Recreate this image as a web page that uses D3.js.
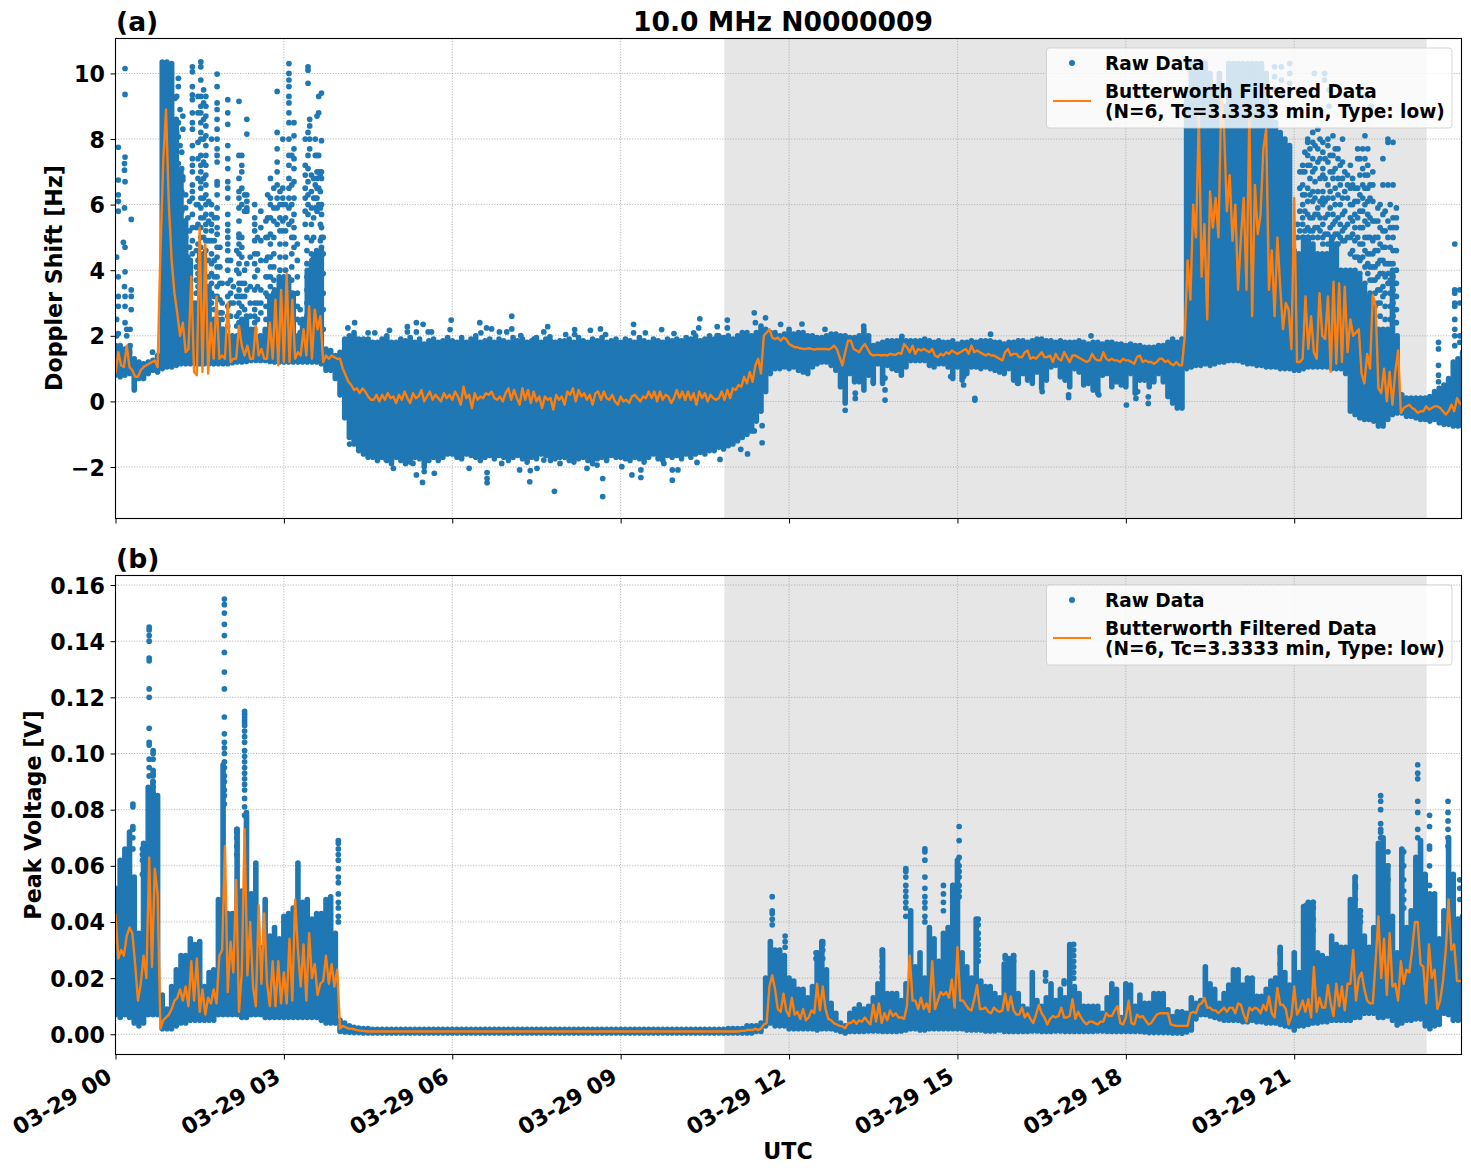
<!DOCTYPE html>
<html>
<head>
<meta charset="utf-8">
<title>10.0 MHz N0000009</title>
<script src="https://cdn.jsdelivr.net/npm/d3@7"></script>
<style>
  html, body { margin: 0; padding: 0; background: #fff; }
  svg { display: block; }
  text { font-family: "DejaVu Sans", sans-serif; font-weight: bold; fill: #000; }
</style>
</head>
<body>
<svg id="chart" width="1471" height="1172"></svg>
<script>
// Time runs in hours after 03-29 00:00 UTC.
const title = "10.0 MHz N0000009";
const xTickHours = [0, 3, 6, 9, 12, 15, 18, 21];
const xTickLabels = ["03-29 00", "03-29 03", "03-29 06", "03-29 09", "03-29 12", "03-29 15", "03-29 18", "03-29 21"];
const dopplerTicks = [-2, 0, 2, 4, 6, 8, 10];
const dopplerTickLabels = ["\u22122", "0", "2", "4", "6", "8", "10"];
const voltageTicks = [0, 0.02, 0.04, 0.06, 0.08, 0.10, 0.12, 0.14, 0.16];
const voltageTickLabels = ["0.00", "0.02", "0.04", "0.06", "0.08", "0.10", "0.12", "0.14", "0.16"];
const nightStart = 10.846, nightEnd = 23.36;

// Dense raw Doppler samples: lower and upper edge of the cloud, one value per 5 minutes.
const dopplerLow = [
  .8,.75,.8,.85,.35,.7,.7,.85,.95,.9,1.0,1.05,
  1.05,1.1,1.15,1.15,1.15,1.15,1.15,1.15,1.15,1.15,1.15,1.15,
  1.15,1.18,1.2,1.2,1.22,1.25,1.25,1.25,1.25,1.22,1.2,1.2,
  1.2,1.2,1.2,1.2,1.2,1.2,1.2,1.2,1.15,.95,.95,.7,
  .2,-.5,-1.1,-1.3,-1.5,-1.6,-1.7,-1.7,-1.8,-1.7,-1.8,-1.9,
  -1.7,-1.8,-1.9,-1.85,-1.7,-1.75,-1.9,-1.8,-1.7,-1.8,-1.7,-1.6,
  -1.6,-1.7,-1.75,-1.6,-1.65,-1.7,-1.8,-1.7,-1.65,-1.75,-1.65,-1.7,
  -1.8,-1.7,-1.65,-1.75,-1.85,-1.7,-1.75,-1.6,-1.65,-1.8,-1.75,-1.7,
  -1.7,-1.8,-1.85,-1.75,-1.7,-1.8,-1.9,-1.75,-1.7,-1.8,-1.65,-1.7,
  -1.7,-1.75,-1.8,-1.7,-1.75,-1.85,-1.7,-1.6,-1.75,-1.8,-1.65,-1.7,
  -1.65,-1.75,-1.6,-1.7,-1.6,-1.55,-1.6,-1.5,-1.5,-1.4,-1.45,-1.35,
  -1.3,-1.2,-1.1,-1.0,-.9,-.6,-.3,.3,.85,1.0,1.0,1.05,
  1.0,1.05,.95,.9,.85,1.05,1.15,1.2,1.2,1.1,.95,.45,
  -.05,.85,.6,.6,.35,.8,.55,1.15,.55,1.1,1.0,.95,
  .8,1.05,1.25,1.25,1.25,1.25,1.1,1.05,1.15,1.15,1.05,.7,
  1.05,.65,.85,1.05,1.05,1.0,1.05,1.0,.95,.9,.85,1.0,
  .65,.55,.85,.65,.55,.9,.4,.65,1.05,1.1,.75,.65,
  .45,1.0,.9,.5,.55,.35,.25,.8,.85,.45,.6,.5,
  .45,.85,.25,.65,.65,.45,.6,.85,.6,.15,-.05,-.2,
  -.2,1.0,1.05,1.1,1.1,1.15,1.1,1.15,1.2,1.2,1.25,1.25,
  1.25,1.2,1.15,1.15,1.1,1.1,1.05,1.05,1.05,1.0,1.0,1.0,
  .95,.95,1.0,1.05,1.05,1.05,1.05,1.05,1.0,1.0,1.0,.85,
  -.3,-.4,-.5,-.55,-.55,-.6,-.75,-.75,-.55,-.4,-.35,-.35,
  -.45,-.45,-.5,-.55,-.55,-.6,-.55,-.65,-.7,-.7,-.75,-.75,-.75
];
const dopplerHigh = [
  1.7,1.7,1.6,1.6,1.3,1.2,1.15,1.2,1.25,1.4,10.35,10.35,
  10.3,8.6,7.0,5.5,4.3,3.0,4.5,4.5,3.5,2.5,2.5,2.2,
  2.0,2.0,2.0,2.4,2.6,2.2,1.9,2.0,2.2,3.2,3.4,3.8,
  3.8,3.8,3.3,2.0,2.5,4.0,4.3,4.6,4.6,1.6,1.55,1.4,
  1.5,1.9,2.0,2.1,1.9,1.9,1.9,1.8,1.8,1.9,2.0,1.8,
  1.8,1.9,1.85,1.95,1.8,1.9,1.75,1.85,1.9,1.8,1.85,1.95,
  1.85,1.8,1.95,1.8,1.9,2.0,1.8,1.85,1.9,1.8,1.9,1.85,
  1.8,1.95,1.85,1.9,1.8,1.85,1.95,1.8,1.9,1.85,1.8,1.85,
  1.85,1.9,1.8,1.95,1.85,1.8,1.9,1.85,1.95,1.8,1.85,1.9,
  1.8,1.9,1.85,1.8,1.95,1.85,1.8,1.9,1.85,1.8,1.9,1.85,
  1.9,1.85,1.95,1.9,2.0,1.85,1.9,2.0,1.9,2.0,1.95,2.0,
  1.9,2.0,2.1,2.1,2.0,2.1,2.3,2.2,2.1,2.1,2.0,2.05,
  2.2,2.05,2.1,2.1,2.0,2.0,1.95,1.95,2.0,2.05,2.05,2.0,
  2.0,1.95,1.95,2.0,2.2,2.0,1.7,1.75,1.8,1.85,1.85,1.85,
  1.9,1.85,1.85,1.85,1.85,1.9,1.85,1.8,1.85,1.8,1.8,1.85,
  1.75,1.8,1.8,1.85,1.8,1.85,1.85,1.85,1.8,1.8,1.75,1.8,
  1.8,1.85,1.85,1.8,1.85,1.9,1.9,1.85,1.85,1.8,1.85,1.8,
  1.8,1.8,1.85,1.8,1.75,1.8,1.8,1.75,1.8,1.8,1.75,1.75,
  1.7,1.75,1.7,1.7,1.65,1.65,1.65,1.7,1.7,1.8,1.9,1.8,
  1.9,9.5,10.3,10.3,10.3,10.3,10.0,9.5,10.0,9.0,10.3,10.3,
  10.3,10.3,10.3,10.3,10.3,10.3,10.0,9.0,8.5,8.2,8.0,7.8,
  4.6,4.5,5.0,5.0,4.8,4.5,4.5,4.5,5.0,4.8,4.0,4.0,
  4.0,4.0,3.8,3.5,3.2,3.0,2.2,2.2,2.2,4.0,2.0,.2,
  .1,.1,.1,.1,.1,.15,.3,.4,.5,.7,1.2,1.3,1.5
];

// Isolated raw Doppler samples above the cloud, grouped by the hour they fall in.
const dopplerColumns = [
  [.05,[7.75,6.75,6.3,6.1,5.8,3.8,3.2,2.9,2.07]], [.02,[4.4,2.5,2.0]],
  [.17,[10.15,9.36,7.45,6.7,4.7,3.95,3.2,2.9,2.4]], [.16,[7.25,7.05,5.9,3.5]], [.14,[4.85]], [.2,[2.2,2.0]],
  [.28,[5.55,3.4,3.2,2.8]], [.26,[2.2,1.7]], [.25,[1.5]], [.66,[1.5]],
  [1.12,[9.85,9.6,8.5,8.07,7.25,6.55,5.6]], [1.06,[9.24]], [1.15,[8.9,7.8,6.1,5.2]], [1.2,[8.7,8.3,6.85,6.75]],
  [1.25,[6.3,5.9,5.0,4.7]], [1.29,[5.6,4.4]],
  [1.09,[9.3,8.2,7.6,7.0,6.4,5.8,5.2,4.6]], [1.18,[7.6,7.1,6.4,5.8,5.3,4.8,4.3,3.8]], [1.23,[5.5,5.1,4.4,4.0,3.6,3.2]],
  [1.32,[6.1,5.2,4.7,4.2,3.8,3.3,2.9]], [1.44,[6.0,5.3,4.6,4.1,3.7,3.3,2.9,2.5]],
  [1.47,[9.3,8.8,7.9,7.4,6.8,6.0,5.4,4.8,4.3,3.9,3.5,3.0]], [1.57,[9.5,9.1,8.6,8.0,7.3,6.8,6.2,5.6,5.0,4.5,4.0,3.6,3.1]],
  [1.66,[6.1,5.5,4.9,4.3,3.8,3.3,2.8]], [1.76,[5.6,4.9,4.3,3.8,3.2,2.8,2.4]], [1.86,[4.7,4.1,3.6,3.1,2.7]],
  [1.37,[10.2,10.05,9.6,9.35,9.2,8.8,8.5,8.3,7.8,7.4,7.2,7.0,6.6,6.4,6.2,5.7,5.3,4.9,4.5]],
  [1.52,[10.35,10.2,9.8,9.3,9.0,8.8,8.5,8.2,8.0,7.5,7.2,7.0,6.7,6.5,6.2,5.9,5.6,5.3,5.0,4.7]],
  [1.61,[9.3,9.0,8.7,8.4,8.1,7.8,7.5,7.2,6.9,6.6,6.3,6.0,5.7,5.4,5.2,4.9,4.6]],
  [1.71,[8.0,6.0,5.7,5.4,5.2,4.9,4.5,4.2,3.9,3.6,3.3,3.0]],
  [1.81,[9.98,9.6,9.1,8.9,8.6,8.3,8.0,7.7,7.5,7.3,6.7,6.6,6.3,5.9,5.6,5.3,5.1,4.7,4.4,4.1,3.8,3.5,3.2]],
  [1.9,[3.6,3.0,2.7,2.5,2.2]],
  [2.0,[9.2,8.8,8.45,7.8,7.4,7.1,6.7,6.5,6.2,5.7,5.4,5.2,5.0,4.8,4.6,4.3,4.0,3.6,3.2,2.9,2.6,2.3]],
  [2.05,[4.3,3.7,3.3,3.0,2.6]], [2.1,[3.5,3.0]], [2.16,[4.6,4.0,3.2,2.6,2.3]],
  [2.2,[9.15,7.5,6.8,6.4,6.2,5.9,5.5,5.1,5.0,4.8,4.5,4.2,3.9,3.6,3.4,3.2,3.0,2.7,2.4]],
  [2.25,[7.5,7.2,7.0,6.5,6.0,5.0,4.7,4.4,3.6,3.2,2.9,2.5,2.2]],
  [2.3,[6.3,5.8,4.0,3.6,3.2,2.8]],
  [2.34,[8.6,8.15,6.3,6.1,5.9,5.8,4.2,3.4]], [2.4,[4.4,3.5,3.0,2.6]],
  [2.48,[6.0,5.6,5.4,5.2,4.9,4.5,4.2,3.8,3.4,3.0,2.8,2.6,2.4,2.2]],
  [2.53,[5.0,4.5,4.0,3.5,3.0,2.5]],
  [2.59,[5.8,5.3,4.9,4.3,3.4,3.0,2.7]], [2.68,[5.5,5.0,4.3,3.8,3.3,2.9,2.5]], [2.71,[6.3,5.6,5.0,4.4,3.8,3.2]],
  [2.76,[6.8,6.2,6.0,5.6,5.1,4.8,4.4,4.1,3.8,3.5,3.2,2.9]],
  [2.82,[6.5,5.9,5.5,5.0,4.5,4.1,3.7,3.3,2.9,2.5]],
  [2.88,[9.45,8.2,7.7,7.3,7.0,6.6,6.2,5.9,5.4]],
  [2.93,[6.4,6.0,5.6,5.2,4.8,4.4,4.0,3.6,3.2,2.8,2.4]],
  [2.98,[8.0,6.5,6.2,6.0,5.5,5.2]],
  [3.03,[6.0,5.6,5.2,4.8,4.4,4.0,3.6,3.2,2.8,2.4]],
  [3.09,[10.3,10.0,9.8,9.6,9.3,9.1,8.8,8.5,8.0,7.5,7.2,6.8,6.5,6.2,5.9,5.4]],
  [3.14,[7.5,6.6,6.0,5.5,5.0,4.5,4.1,3.7,3.3,2.9,2.5,2.1]],
  [3.18,[8.5,8.1,7.7,7.4,7.1,6.7,6.2,5.7,5.3,5.0,4.7]],
  [3.24,[4.8,4.3,3.8,3.3,2.9,2.5]], [3.29,[2.8,2.4,2.1]],
  [3.38,[8.0,7.2,6.9,6.5,6.2,5.8,5.4]], [3.41,[5.0,4.6,4.2,3.8,3.4,3.0,2.6,2.2]],
  [3.43,[10.2,10.1,9.7,8.2,7.5,7.1,6.7,6.3,6.0,5.7]],
  [3.46,[8.6,8.4,8.0,7.7]], [3.49,[6.9,6.4,5.9,5.4,4.9,4.5,4.1,3.7,3.3,2.9,2.5]],
  [3.53,[6.8,6.2,5.6,5.0,4.4,3.9,3.4,2.9,2.4]],
  [3.56,[8.0,7.5,6.6,6.2,5.9]],
  [3.59,[8.7,7.5,7.0,6.8,6.5,6.2,5.8]],
  [3.62,[9.3,8.8,7.5,7.0,6.5,6.0]], [3.65,[6.9,6.4,5.9,5.4,4.9,4.4,3.9,3.4,2.9,2.4]],
  [3.67,[9.4,7.95,7.0,6.8,6.0,5.7,5.3,5.0,4.7]], [3.7,[5.0,4.5,3.9,3.3,2.8,2.2]],
  [20.65,[10.2,9.9,9.5]], [20.77,[10.2,9.8,9.3]], [20.92,[10.3,10.0,9.7,9.5]],
  [21.36,[10.0]], [21.54,[10.0,9.8]], [21.62,[9.5,9.0]], [22.25,[9.3]], [22.37,[9.0]],
  [21.06,[5.4,5.0]], [21.1,[7.0,6.5,5.8,5.2]],
  [21.15,[7.2,7.0,6.6,6.3,6.0,5.6,5.4,5.0]], [21.19,[7.6,7.0,6.3,5.8,5.2]],
  [21.24,[8.0,7.9,7.5,7.2,6.5,6.1,5.7,5.3,5.0]], [21.28,[7.7,7.2,6.8,6.3,5.6,5.2]],
  [21.33,[8.2,7.9,7.4,7.0,6.4,6.1,5.6,5.2,5.0]], [21.37,[7.8,7.1,6.7,6.2,5.7,5.3]],
  [21.42,[8.3,7.7,7.3,6.4,5.9,5.7,5.3,5.0]], [21.46,[8.0,7.4,6.8,6.1,5.6,5.2]],
  [21.51,[7.9,7.6,7.1,6.9,6.4,6.2,6.0,5.4,5.0,4.8]], [21.55,[7.4,6.8,6.1,5.6,5.1]],
  [21.6,[8.0,7.8,7.3,6.6,6.2,5.7,5.1,4.8]], [21.64,[7.5,7.0,6.4,5.9,5.3]],
  [21.69,[8.1,7.5,7.0,6.8,6.2,5.7,5.4,5.0]], [21.73,[7.7,7.1,6.5,6.0,5.5,5.1]],
  [21.78,[7.7,7.4,6.8,6.3,5.6,5.1,4.8]], [21.82,[7.2,6.6,6.0,5.4,5.0]],
  [21.86,[8.0,7.3,6.8,6.2,5.7,5.2,4.9]], [21.9,[7.0,6.4,5.8,5.3,4.9]],
  [21.95,[6.9,6.6,6.2,5.4,5.0]], [22.0,[7.2,6.5,6.0,5.6,5.0,4.5]],
  [22.04,[6.8,6.6,6.0,5.5,5.1,4.6]], [22.08,[6.5,6.1,5.7,5.3,4.9,4.4]],
  [22.13,[7.7,7.4,6.5,6.1,5.6,5.0,4.4]], [22.17,[7.4,6.9,6.3,5.8,5.3,4.8,4.3,3.9]],
  [22.22,[7.7,7.1,6.6,6.2,5.8,5.3,4.8,4.4]], [22.26,[8.1,7.4,6.9,6.5,6.0,5.5,5.0,4.6,4.1,3.6]],
  [22.31,[7.7,7.2,6.9,6.5,6.1,5.7,5.4,5.0,4.5,4.2,3.9]], [22.35,[6.6,6.2,5.6,5.0,4.5,4.1,3.7,3.3]],
  [22.4,[7.0,6.6,6.1,5.5,4.9,4.5,4.1,3.7]], [22.44,[5.5,5.0,4.6,4.1,3.7,3.3,2.9]],
  [22.49,[5.9,5.5,5.0,4.6,4.2,3.8,3.4,3.0]], [22.53,[6.0,5.3,4.8,4.3,3.9,3.4,3.0,2.6]],
  [22.58,[7.4,6.6,5.7,5.2,4.7,4.3,3.9,3.5,3.2]], [22.62,[5.8,5.2,4.7,4.2,3.8,3.3,2.9,2.5]],
  [22.67,[8.0,7.9,6.6,5.5,5.0,4.2,3.9,3.6]], [22.71,[6.0,5.3,4.7,4.2,3.7,3.3,2.9,2.5]],
  [22.76,[7.9,6.6,5.6,5.3,5.0,4.6,4.2,3.8,3.4,3.0,2.6]],
  [22.82,[5.9,5.6,5.3,4.6,4.0,3.6,3.2,2.8,2.4]],
  [23.57,[1.8,1.6,1.1,.8,.6]], [23.86,[4.8,3.4,3.3,3.0,2.9,2.5,2.2,2.0,1.7]], [23.95,[3.4,3.0,2.0,1.8]],
  // scattered points around the quiet band, from 04:00 to 19:00
  [4.14,[2.24]],[4.26,[2.40]],[4.5,[2.09]],[4.62,[2.09]],[4.88,[2.17]],[5.2,[2.28,2.12]],[5.36,[2.4,2.12]],[5.48,[2.35]],
  [5.57,[2.12]],[5.63,[2.12]],[5.98,[2.48]],[5.96,[2.19]],[6.49,[2.4]],[6.51,[2.09]],[6.61,[2.24]],[6.7,[2.21]],[6.84,[2.12]],
  [6.97,[2.12]],[7.06,[2.6,2.21]],[7.22,[2.01]],[7.46,[1.91]],[7.63,[2.12]],[7.7,[2.28]],[7.74,[1.97]],[8.02,[2.04]],
  [8.18,[2.19,2.04]],[8.46,[2.17]],[8.64,[2.21]],[8.73,[2.04]],[9.23,[2.35,2.09]],[9.44,[2.09]],[9.73,[2.19]],[9.95,[2.07]],
  [10.41,[2.52]],[10.39,[2.24]],[10.3,[2.09]],[10.72,[2.28,2.01]],[10.9,[2.48,2.24]],[11.38,[2.7]],[11.4,[2.4]],[11.58,[2.55]],[11.85,[2.35]],
  [4.17,[-1.3]],[4.35,[-1.33]],[4.53,[-1.6]],[4.82,[-1.77]],[4.95,[-2.04]],[5.3,[-1.89]],[5.36,[-2.24]],[5.5,[-1.99,-2.14]],
  [5.47,[-2.47]],[5.68,[-2.19]],[6.07,[-1.6]],[6.15,[-1.63]],[6.3,[-2.04]],[6.62,[-2.17,-2.35,-2.48]],[6.88,[-1.89]],[7.2,[-2.09]],
  [7.39,[-2.11]],[7.38,[-2.45]],[7.51,[-2.04]],[7.63,[-1.79]],[7.82,[-2.74]],[7.92,[-1.89]],[8.4,[-2.04]],[8.58,[-1.94]],
  [8.68,[-2.35,-2.9]],[9.02,[-1.99]],[9.2,[-2.24]],[9.36,[-2.09,-2.32]],[9.77,[-1.89]],[9.92,[-2.09,-2.4]],[10.02,[-2.09]],
  [10.36,[-1.86]],[10.77,[-1.77]],[11.26,[-1.6]],[11.14,[-1.46]],[11.52,[-1.26,-.74]],[11.38,[-.9]],
  [13.0,[-.27]],[13.18,[.25,.09]],[13.5,[.6]],[13.71,[.71,.35,.04]],[14.88,[.76]],[15.11,[.76,.5]],[15.31,[.09,.04]],
  [16.07,[.87,.56]],[16.51,[.3]],[16.98,[.2,.12]],[17.52,[.2]],[18.21,[.3]],[18.18,[.09]],[18.01,[-.11]],[18.4,[.14,-.06]],
  [15.59,[2.05]],[17.38,[2.0]],[14.01,[1.98]],[13.33,[2.3]],[12.23,[2.36]],[12.64,[2.2]]
];

// Butterworth filtered Doppler shift, one value per 3 minutes.
const dopplerFiltered = [
  .85,1.5,1.1,1.05,1.7,1.05,.95,.75,.75,.95,1.05,1.1,1.15,1.2,1.25,1.05,4.5,7.3,8.9,6.0,
  4.3,3.3,2.7,2.0,2.4,1.5,1.6,3.8,.9,.8,5.3,.9,4.8,.85,2.4,1.3,3.2,1.3,1.4,1.3,
  3.0,1.2,1.3,1.3,2.3,1.7,1.4,1.7,1.3,1.3,2.3,1.4,1.6,1.3,1.3,2.4,1.3,3.1,1.1,3.4,
  1.2,3.9,1.2,3.1,1.3,1.5,1.4,2.2,1.4,2.9,1.3,2.8,2.2,2.6,1.2,1.4,1.3,1.4,1.35,1.3,
  1.3,1.0,.8,.6,.5,.35,.4,.25,.4,.3,.15,.05,.05,.2,0,.2,.05,.25,.1,.15,
  -.05,.2,.05,.3,.1,-.05,.25,.1,.15,.35,.0,.15,.3,.05,.2,.1,.0,.25,.1,.2,
  .05,.3,.15,-.1,.45,.1,.2,-.2,.25,.05,.15,.1,.25,.2,.3,.1,.05,.15,.0,.25,
  .4,.05,.35,.1,-.1,.4,.05,.35,-.05,.3,.0,.15,-.2,.15,.05,.1,-.25,.2,.05,.15,
  -.1,.3,.2,.4,.0,.35,.15,.25,.05,.2,-.1,.25,.3,.05,.3,.1,.05,.2,.0,-.1,
  .15,.0,.05,-.05,.15,.2,.1,.0,.15,.1,.3,.1,.3,.0,.3,.05,.2,.15,-.05,.1,
  .35,.1,.3,.05,.3,.05,.25,-.1,.3,.1,.25,.0,.2,.1,.05,.1,.3,.05,.35,.1,
  .4,.35,.5,.45,.75,.55,.9,.6,1.1,1.3,.85,2.0,2.1,2.2,1.95,1.9,1.95,1.85,1.95,1.9,
  1.75,1.7,1.65,1.65,1.62,1.6,1.6,1.62,1.6,1.58,1.6,1.6,1.6,1.6,1.58,1.62,1.7,1.6,1.35,1.1,
  1.5,1.85,1.85,1.6,1.55,1.5,1.65,1.75,1.6,1.45,1.4,1.42,1.42,1.4,1.42,1.4,1.45,1.43,1.42,1.48,
  1.45,1.75,1.65,1.5,1.7,1.45,1.6,1.55,1.6,1.55,1.5,1.6,1.4,1.35,1.45,1.4,1.5,1.45,1.55,1.5,
  1.45,1.5,1.55,1.6,1.45,1.7,1.5,1.55,1.5,1.45,1.4,1.45,1.4,1.4,1.35,1.3,1.25,1.5,1.6,1.4,
  1.45,1.45,1.35,1.35,1.5,1.55,1.3,1.35,1.3,1.4,1.5,1.35,1.35,1.4,1.2,1.45,1.3,1.25,1.5,1.35,
  1.2,1.4,1.4,1.35,1.3,1.25,1.2,1.25,1.45,1.3,1.25,1.25,1.5,1.3,1.25,1.3,1.25,1.25,1.2,1.3,
  1.25,1.25,1.2,1.15,1.35,1.4,1.2,1.25,1.2,1.2,1.15,1.2,1.3,1.3,1.2,1.25,1.15,1.1,1.2,1.1,
  1.1,2.0,4.3,3.1,6.0,5.0,8.7,3.8,5.4,2.5,6.4,5.3,6.2,5.0,9.3,8.3,5.8,6.9,4.9,6.0,
  3.4,5.0,6.2,3.4,8.7,2.6,6.6,5.1,5.7,7.7,8.3,3.4,4.6,2.6,5.0,3.5,2.2,3.0,2.8,1.6,
  6.2,1.2,1.2,1.3,3.2,1.6,2.6,1.5,1.3,3.3,2.0,1.9,3.2,.9,3.65,1.15,3.6,1.2,3.5,1.5,
  2.5,2.0,2.1,2.2,.85,.55,1.45,1.0,3.25,2.9,.4,.25,1.0,.0,.9,-.1,.9,1.55,-.35,-.2,
  -.15,-.1,-.2,-.25,-.35,-.3,-.3,-.15,-.25,-.2,-.15,-.15,-.2,-.3,-.4,-.3,-.1,-.3,.1,-.05,-.15
];

// Dense raw peak voltage samples: edges of the cloud, one value per 5 minutes.
const voltageLow = [
  .007,.006,.007,.006,.004,.003,.004,.007,.007,.007,.002,.002,
  .002,.003,.004,.004,.005,.005,.005,.005,.005,.005,.007,.007,
  .007,.007,.007,.006,.006,.007,.007,.007,.006,.006,.006,.006,
  .006,.006,.006,.006,.006,.006,.006,.006,.005,.004,.004,.004,
  .001,.0008,.0007,.0006,.0006,.0005,.0005,.0005,.0005,.0005,.0005,.0005,
  .0005,.0005,.0005,.0005,.0005,.0005,.0005,.0005,.0005,.0005,.0005,.0005,
  .0005,.0005,.0005,.0005,.0005,.0005,.0005,.0005,.0005,.0005,.0005,.0005,
  .0005,.0005,.0005,.0005,.0005,.0005,.0005,.0005,.0005,.0005,.0005,.0005,
  .0005,.0005,.0005,.0005,.0005,.0005,.0005,.0005,.0005,.0005,.0005,.0005,
  .0005,.0005,.0005,.0005,.0005,.0005,.0005,.0005,.0005,.0005,.0005,.0005,
  .0005,.0005,.0005,.0005,.0005,.0005,.0005,.0005,.0005,.0005,.0005,.0005,
  .0005,.0005,.0005,.0005,.0005,.001,.001,.003,.004,.003,.003,.003,
  .002,.002,.002,.002,.002,.002,.0015,.002,.002,.002,.0015,.001,
  .0005,.001,.001,.001,.001,.0012,.0012,.0012,.001,.001,.001,.001,
  .0012,.0015,.002,.002,.0015,.0015,.002,.002,.002,.002,.002,.002,
  .002,.002,.0015,.0015,.0015,.0015,.0012,.0012,.0012,.0015,.001,.001,
  .001,.001,.001,.001,.0012,.0012,.001,.001,.001,.0012,.0012,.001,
  .001,.001,.001,.001,.001,.001,.0012,.0012,.001,.001,.001,.001,
  .001,.001,.001,.001,.0008,.0006,.0006,.0006,.0006,.0006,.0005,.0005,
  .0004,.0008,.0015,.0055,.007,.007,.0065,.006,.0055,.005,.005,.005,
  .005,.0045,.0045,.005,.0045,.0045,.004,.004,.004,.0035,.003,.0027,
  .0015,.003,.003,.0035,.004,.004,.0045,.0045,.005,.005,.005,.005,
  .005,.006,.006,.0075,.0075,.0075,.006,.006,.0065,.005,.0033,.004,
  .005,.005,.0055,.0055,.003,.002,.003,.0035,.0075,.007,.005,.005,.005
];
const voltageHigh = [
  .052,.062,.066,.072,.056,.036,.068,.088,.09,.085,.014,.009,
  .017,.023,.028,.028,.034,.032,.033,.017,.022,.023,.048,.096,
  .043,.043,.073,.051,.079,.05,.061,.031,.048,.035,.038,.034,
  .042,.043,.045,.061,.047,.048,.041,.043,.043,.048,.049,.036,
  .005,.004,.003,.0025,.0022,.002,.002,.0018,.0018,.0018,.0018,.0018,
  .0018,.0018,.0018,.0018,.0018,.0018,.0018,.0018,.0018,.0018,.0018,.0018,
  .0018,.0018,.0018,.0018,.0018,.0018,.0018,.0018,.0018,.0018,.0018,.0018,
  .0018,.0018,.0018,.0018,.0018,.0018,.0018,.0018,.0018,.0018,.0018,.0018,
  .0018,.0018,.0018,.0018,.0018,.0018,.0018,.0018,.0018,.0018,.0018,.0018,
  .0018,.0018,.0018,.0018,.0018,.0018,.0018,.0018,.0018,.0018,.0018,.0018,
  .0018,.0018,.0018,.0018,.0018,.0018,.0018,.0018,.0018,.0018,.0018,.002,
  .002,.002,.002,.003,.003,.003,.004,.02,.033,.03,.03,.028,
  .02,.019,.016,.016,.013,.017,.029,.033,.023,.011,.0075,.004,
  .003,.0075,.009,.0105,.009,.01,.013,.018,.03,.0145,.0145,.0145,
  .012,.018,.044,.024,.029,.02,.038,.034,.026,.036,.038,.053,
  .062,.029,.024,.02,.041,.019,.017,.017,.0145,.013,.025,.027,
  .028,.0145,.01,.009,.022,.012,.01,.013,.018,.012,.016,.013,
  .032,.017,.0145,.01,.01,.01,.01,.0075,.013,.018,.016,.006,
  .018,.0175,.01,.014,.011,.011,.0145,.0145,.0145,.0087,.0063,.008,
  .008,.0075,.013,.011,.012,.024,.018,.016,.011,.0145,.0175,.023,
  .023,.0175,.02,.02,.0135,.0135,.016,.019,.02,.031,.022,.0175,
  .029,.022,.0455,.047,.047,.029,.028,.027,.035,.032,.031,.031,
  .048,.056,.044,.035,.031,.038,.068,.07,.06,.042,.029,.066,
  .038,.044,.063,.069,.057,.05,.05,.034,.044,.07,.057,.041,.042
];

// Isolated raw peak voltage samples above the cloud.
const voltageColumns = [
  [.31,[.082,.081,.074,.073,.070,.066]], [.48,[.066,.064,.062,.057]],
  [.6,[.145,.144,.142,.140,.134,.133,.123,.120,.109,.104,.103,.098,.095,.092]],
  [.67,[.101,.100,.098,.094,.092,.093,.090,.088,.086]],
  [1.94,[.155,.153,.150,.146,.142,.136,.129,.123,.113,.107,.104,.102,.100,.097,.095,.092,.090,.087,.085,.082]],
  [2.3,[.115,.114,.113,.112,.111,.110,.108,.106,.104,.101,.099,.097,.095,.093,.091,.089,.087,.084,.081,.078]],
  [2.16,[.073,.072,.070,.067,.064]],
  [3.97,[.069,.068,.066,.064,.062,.059,.056,.054,.050,.047,.045,.042,.040]],
  [11.7,[.049,.044,.043,.041,.039]], [11.93,[.035,.033,.031]],
  [12.48,[.029,.027]], [12.6,[.033,.032,.030,.027]],
  [13.66,[.030,.029,.028,.026,.024,.022,.020]],
  [14.08,[.059,.058,.056,.053,.051,.049,.047,.045,.042]],
  [14.42,[.066,.065,.062,.056,.052,.049,.047,.045,.042,.040]],
  [15.03,[.074,.069,.063,.060,.058,.056,.053,.051,.049]],
  [14.75,[.053,.050,.047,.044]], [14.92,[.053,.051,.048]],
  [15.37,[.041,.039,.036,.034,.032,.030,.028,.026]],
  [17.07,[.032,.030,.028,.026,.024,.022,.020]], [16.57,[.022,.021,.019]], [16.9,[.019,.018]],
  [15.85,[.028,.027,.025,.023]], [16.0,[.028,.026]],
  [20.75,[.030,.029,.025]], [21.22,[.046,.044,.040,.036]], [21.34,[.047,.045,.041,.037]],
  [22.09,[.056,.053,.052,.048]], [22.18,[.044,.042,.040]],
  [22.54,[.085,.083,.080,.075,.073,.072,.070]], [22.67,[.065,.060,.055]],
  [22.95,[.065,.060,.055,.051,.048,.045]], [23.2,[.096,.093,.091,.083,.079,.073,.070]],
  [23.41,[.078,.074,.067,.066,.060,.053]], [23.74,[.083,.079,.076,.073,.070,.067]], [23.95,[.055,.052,.048]]
];

// Butterworth filtered peak voltage, one value per 3 minutes.
const voltageFiltered = [
  .043,.027,.03,.028,.035,.038,.036,.025,.012,.018,.028,.02,.063,.024,.059,.05,.002,.005,.006,.007,
  .009,.012,.013,.016,.012,.017,.01,.026,.012,.027,.008,.016,.007,.013,.011,.016,.011,.028,.03,.067,
  .015,.033,.022,.055,.008,.022,.073,.021,.04,.017,.01,.046,.018,.043,.018,.01,.026,.01,.026,.011,
  .022,.011,.034,.012,.048,.03,.017,.032,.012,.036,.02,.025,.014,.018,.019,.028,.018,.025,.017,.023,
  .002,.003,.0025,.002,.002,.0018,.0015,.0013,.0012,.0011,.001,.001,.001,.001,.001,.001,.001,.001,.001,.001,
  .001,.001,.001,.001,.001,.001,.001,.001,.001,.001,.001,.001,.001,.001,.001,.001,.001,.001,.001,.001,
  .001,.001,.001,.001,.001,.001,.001,.001,.001,.001,.001,.001,.001,.001,.001,.001,.001,.001,.001,.001,
  .001,.001,.001,.001,.001,.001,.001,.001,.001,.001,.001,.001,.001,.001,.001,.001,.001,.001,.001,.001,
  .001,.001,.001,.001,.001,.001,.001,.001,.001,.001,.001,.001,.001,.001,.001,.001,.001,.001,.001,.001,
  .001,.001,.001,.001,.001,.001,.001,.001,.001,.001,.001,.001,.001,.001,.001,.001,.001,.001,.001,.001,
  .001,.001,.001,.001,.001,.001,.001,.001,.001,.001,.001,.001,.001,.001,.001,.001,.001,.001,.001,.001,
  .001,.001,.001,.0012,.0012,.0015,.0015,.0015,.002,.0015,.002,.0035,.004,.017,.021,.016,.009,.008,.0145,.0085,
  .0065,.013,.007,.008,.0055,.009,.005,.006,.0085,.0075,.018,.0085,.017,.009,.0055,.005,.004,.0035,.003,.0028,
  .0022,.004,.004,.005,.0038,.005,.0045,.006,.0045,.0035,.0105,.0045,.011,.004,.0075,.005,.0085,.0065,.0075,.006,
  .006,.0055,.01,.028,.012,.012,.009,.013,.009,.011,.008,.026,.009,.012,.015,.014,.015,.013,.0195,.0095,
  .031,.012,.012,.0105,.009,.0085,.0125,.0175,.009,.009,.0095,.008,.0075,.0095,.0085,.008,.0085,.0145,.0085,.0135,
  .0085,.007,.007,.0095,.006,.0075,.0055,.004,.007,.0105,.0075,.006,.0035,.0055,.0065,.006,.0065,.0095,.006,.006,
  .0065,.0125,.0055,.008,.006,.0045,.0035,.0045,.0045,.004,.0035,.0045,.0045,.0075,.0065,.0065,.0085,.01,.004,.0035,
  .006,.012,.004,.0035,.007,.006,.0065,.005,.0035,.004,.0055,.007,.0075,.0075,.0075,.0075,.0035,.0032,.003,.003,
  .003,.003,.003,.0075,.008,.0075,.0105,.011,.013,.0095,.0095,.0085,.0085,.0075,.0085,.0095,.008,.0095,.0095,.0075,
  .011,.0105,.007,.0045,.0095,.0085,.0095,.009,.0075,.0105,.0085,.0135,.0075,.006,.0165,.0105,.0105,.009,.0035,.0065,
  .017,.007,.009,.012,.008,.0125,.006,.024,.008,.013,.0095,.0095,.0175,.011,.0065,.018,.01,.017,.0085,.018,
  .018,.03,.012,.02,.022,.016,.012,.011,.011,.026,.042,.02,.034,.014,.036,.017,.018,.012,.026,.018,
  .023,.022,.03,.04,.04,.025,.024,.011,.032,.02,.023,.009,.012,.019,.03,.048,.03,.032,.019,.019,.019
];

const blue = "#1f77b4", orange = "#ff7f0e";
const svg = d3.select("#chart");
const x = d3.scaleLinear().domain([0, 23.98]).range([115.5, 1461.5]);

// Draws one stacked panel from its raw edges, isolated points and filtered trace.
function drawPanel(cfg) {
  const y = d3.scaleLinear().domain(cfg.domain).range([cfg.bottom, cfg.top]);
  const g = svg.append("g");
  const clipId = "clip-" + cfg.tag;
  g.append("clipPath").attr("id", clipId).append("rect")
    .attr("x", x.range()[0]).attr("y", cfg.top)
    .attr("width", x.range()[1] - x.range()[0]).attr("height", cfg.bottom - cfg.top);

  const body = g.append("g").attr("clip-path", `url(#${clipId})`);
  body.append("rect")
    .attr("x", x(nightStart)).attr("y", cfg.top)
    .attr("width", x(nightEnd) - x(nightStart)).attr("height", cfg.bottom - cfg.top)
    .attr("fill", "#808080").attr("fill-opacity", 0.2);

  const grid = body.append("g").attr("stroke", "#ababab").attr("stroke-width", 1).attr("stroke-dasharray", "1,1.65");
  grid.selectAll("line.v").data(xTickHours).join("line").attr("class", "v")
    .attr("x1", d => x(d)).attr("x2", d => x(d)).attr("y1", cfg.top).attr("y2", cfg.bottom);
  grid.selectAll("line.h").data(cfg.ticks).join("line").attr("class", "h")
    .attr("x1", x.range()[0]).attr("x2", x.range()[1]).attr("y1", d => y(d)).attr("y2", d => y(d));

  // the merged mass of samples: one round-capped stroke per bin, so its edge reads as stacked dots
  const cloud = cfg.low.map((lo, i) => ({ hour: i / 12, lo, hi: cfg.high[i] }));
  body.append("g").attr("stroke", blue).attr("stroke-width", 5.6).attr("stroke-linecap", "round")
    .selectAll("line").data(cloud).join("line")
    .attr("x1", d => x(d.hour)).attr("x2", d => x(d.hour))
    .attr("y1", d => y(d.lo)).attr("y2", d => y(d.hi));

  const loose = cfg.columns.flatMap(([hour, values]) => values.map(value => ({ hour, value })));
  body.append("g").attr("fill", blue).selectAll("circle").data(loose).join("circle")
    .attr("cx", d => x(d.hour)).attr("cy", d => y(d.value)).attr("r", 2.85);

  body.append("path").datum(cfg.filtered)
    .attr("d", d3.line().x((d, i) => x(i / 20)).y(d => y(d)))
    .attr("fill", "none").attr("stroke", orange).attr("stroke-width", 2.4).attr("stroke-linejoin", "round");

  // legend box, translucent over the data
  const lx = 1046.5, ly = cfg.top + 9.5;
  const legend = g.append("g");
  legend.append("rect").attr("x", lx).attr("y", ly).attr("width", 405.5).attr("height", 80).attr("rx", 3)
    .attr("fill", "#fff").attr("fill-opacity", 0.8).attr("stroke", "#ccc").attr("stroke-opacity", 0.8);
  legend.append("circle").attr("cx", 1072).attr("cy", ly + 15).attr("r", 3).attr("fill", blue);
  legend.append("line").attr("x1", 1053).attr("x2", 1091).attr("y1", ly + 53).attr("y2", ly + 53)
    .attr("stroke", orange).attr("stroke-width", 2);
  const legendText = [["Raw Data", 22], ["Butterworth Filtered Data", 50], ["(N=6, Tc=3.3333 min, Type: low)", 70]];
  legend.selectAll("text").data(legendText).join("text")
    .attr("x", 1105).attr("y", d => ly + d[1]).attr("font-size", 18.55).text(d => d[0]);

  // frame
  g.append("rect").attr("x", x.range()[0]).attr("y", cfg.top)
    .attr("width", x.range()[1] - x.range()[0]).attr("height", cfg.bottom - cfg.top)
    .attr("fill", "none").attr("stroke", "#000").attr("stroke-width", 1.1);

  // axes
  const yAxis = g.append("g").attr("transform", `translate(${x.range()[0]},0)`)
    .call(d3.axisLeft(y).tickValues(cfg.ticks).tickFormat((d, i) => cfg.tickLabels[i]).tickSize(5).tickPadding(5.5));
  yAxis.select(".domain").remove();
  yAxis.selectAll("text").attr("font-size", 22.2).attr("font-family", "DejaVu Sans").attr("font-weight", "bold").attr("dy", "0.36em");

  const xAxis = g.append("g").attr("transform", `translate(0,${cfg.bottom})`)
    .call(d3.axisBottom(x).tickValues(xTickHours).tickFormat(() => "").tickSize(5));
  xAxis.select(".domain").remove();

  g.append("text").attr("x", 116).attr("y", cfg.top - 8).attr("font-size", 26.6).text(cfg.tag === "a" ? "(a)" : "(b)");
  g.append("text").attr("transform", `translate(${cfg.labelX},${cfg.labelY}) rotate(-90)`)
    .attr("text-anchor", "middle").attr("font-size", 22.2).text(cfg.label);
  return g;
}

drawPanel({
  tag: "a", top: 38.5, bottom: 518.5, domain: [-3.57, 11.065],
  low: dopplerLow, high: dopplerHigh, columns: dopplerColumns, filtered: dopplerFiltered,
  ticks: dopplerTicks, tickLabels: dopplerTickLabels,
  label: "Doppler Shift [Hz]", labelX: 62, labelY: 278
});
drawPanel({
  tag: "b", top: 575.5, bottom: 1054.5, domain: [-0.0072, 0.1634],
  low: voltageLow, high: voltageHigh, columns: voltageColumns, filtered: voltageFiltered,
  ticks: voltageTicks, tickLabels: voltageTickLabels,
  label: "Peak Voltage [V]", labelX: 41, labelY: 815
});

svg.append("text").attr("x", 783).attr("y", 30.5).attr("text-anchor", "middle").attr("font-size", 26.6).text(title);
svg.append("text").attr("x", 788).attr("y", 1159).attr("text-anchor", "middle").attr("font-size", 22.2).text("UTC");

svg.append("g").selectAll("text").data(xTickHours).join("text")
  .attr("transform", d => `translate(${x(d) - 10},1067) rotate(-30)`)
  .attr("text-anchor", "end").attr("font-size", 22.2).attr("dy", "0.72em")
  .text((d, i) => xTickLabels[i]);
</script>
</body>
</html>
